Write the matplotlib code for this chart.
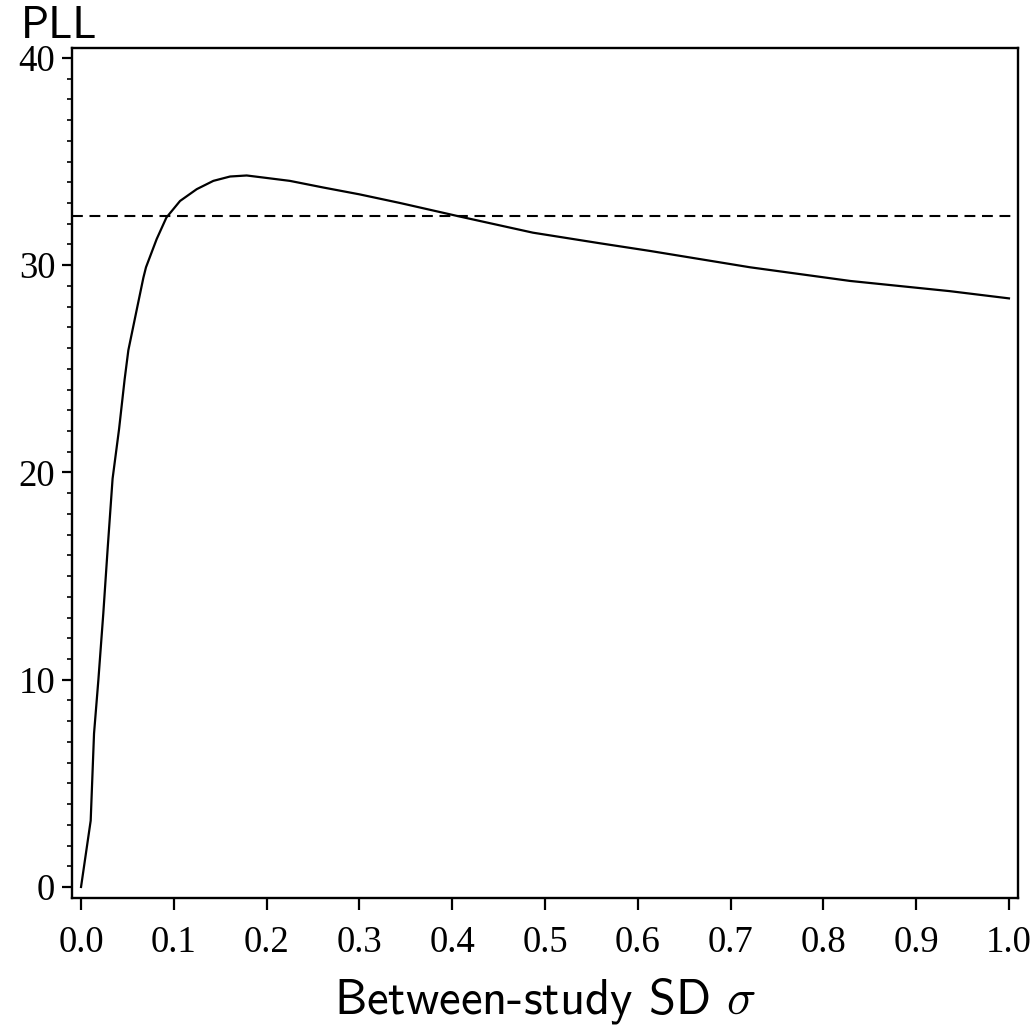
import matplotlib
matplotlib.use("Agg")
import matplotlib.pyplot as plt
from matplotlib.ticker import MultipleLocator

# profile log-likelihood
sigma = [0.0, 0.0104, 0.014, 0.0187, 0.024, 0.0288, 0.034, 0.041, 0.047, 0.051,
         0.0607, 0.0672, 0.070, 0.0815, 0.092, 0.1067, 0.1247, 0.1426, 0.1606, 0.1785,
         0.1965, 0.225, 0.261, 0.300, 0.344, 0.408, 0.487, 0.559, 0.613, 0.721,
         0.829, 0.936, 1.0]
pll = [0.0, 3.2, 7.4, 10.0, 13.2, 16.4, 19.7, 22.1, 24.5, 25.9,
       28.0, 29.4, 29.9, 31.26, 32.3, 33.1, 33.67, 34.07, 34.28, 34.33,
       34.23, 34.07, 33.75, 33.42, 33.0, 32.35, 31.57, 31.06, 30.69, 29.9,
       29.24, 28.75, 28.4]
cutoff = 32.38

xticks = [0.0, 0.1, 0.2, 0.3, 0.4, 0.5, 0.6, 0.7, 0.8, 0.9, 1.0]
yticks = [0, 10, 20, 30, 40]

plt.rcParams['mathtext.fontset'] = 'cm'

fig = plt.figure(figsize=(10.32, 10.26), dpi=100)
ax = fig.add_axes([0.0698, 0.1248, 0.9166, 0.8284])

ax.plot(sigma, pll, color='black', linewidth=1.6)
ax.axhline(cutoff, color='black', linewidth=1.5, linestyle=(0, (5.2, 3.2)))

ax.set_xlim(-0.0097, 1.0097)
ax.set_ylim(-0.53, 40.48)

ax.set_xticks(xticks)
ax.set_xticklabels([f"{t:.1f}" for t in xticks])
ax.set_yticks(yticks)
ax.yaxis.set_minor_locator(MultipleLocator(1))

for lbl in ax.get_xticklabels() + ax.get_yticklabels():
    lbl.set_fontfamily('Liberation Serif')
    lbl.set_fontsize(26.5)

ax.tick_params(axis='x', direction='out', length=8.5, width=1.6, pad=11)
ax.tick_params(axis='y', which='major', direction='out', length=7, width=1.6, pad=5)
ax.tick_params(axis='y', which='minor', direction='out', length=3.6, width=1.2)

for s in ax.spines.values():
    s.set_linewidth(1.7)

ax.set_xlabel(r"Between-study SD $\sigma$", fontsize=35, family='cmss10', labelpad=12)
fig.text(0.020, 0.963, "PLL", fontsize=32, family='cmss10', ha='left', va='baseline')

fig.savefig("out.png", dpi=100)
